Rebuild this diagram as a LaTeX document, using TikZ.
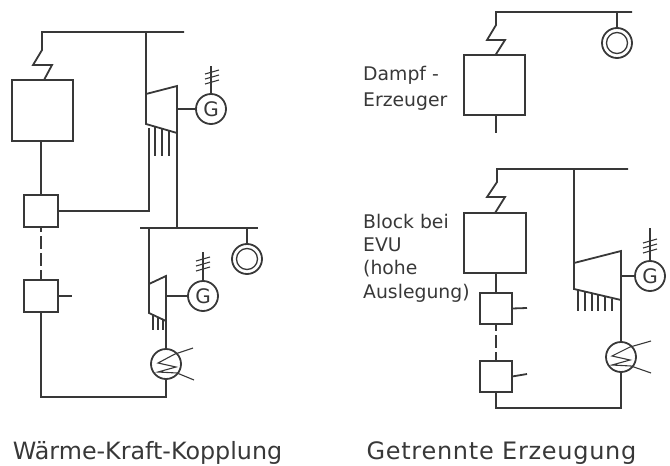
\documentclass[tikz,border=0pt]{standalone}
\usepackage{xcolor}
\usepackage{fontspec}
\setmainfont{DejaVu Sans}
\newfontfamily\capfontR[LetterSpace=3]{DejaVu Sans}
\definecolor{ink}{gray}{0.22}
\tikzset{
  line/.style={ink,line width=1.8pt},
  thin line/.style={ink,line width=1.1pt},
  box/.style={draw=ink,line width=1.8pt,rectangle,inner sep=0pt,outer sep=0pt},
  ring/.style={draw=ink,line width=1.8pt,circle,inner sep=0pt,outer sep=0pt,minimum size=30pt},
  inner ring/.style={ring,line width=1.3pt,minimum size=21pt},
  gen/.style={ring,text=ink,font=\fontsize{20}{20}\selectfont},
  label/.style={text=ink,anchor=base west,inner sep=0pt,font=\fontsize{18.8}{20}\selectfont},
  capL/.style={text=ink,anchor=base,inner sep=0pt,font=\fontsize{23.8}{24}\selectfont},
  capR/.style={text=ink,anchor=base,inner sep=0pt,font=\capfontR\fontsize{24}{24}\selectfont}
}
\begin{document}
\begin{tikzpicture}[x=1pt,y=-1pt]
    \useasboundingbox (0,0) rectangle (670,466);

    % linke Seite
    \coordinate (A) at (42,32);
    \coordinate (B) at (184,32);
    \coordinate (C) at (146,32);
    \coordinate (D) at (146,94);
    \coordinate (E) at (177,86);
    \coordinate (F) at (177,133);
    \coordinate (H) at (146,124);
    \coordinate (I) at (149,128);
    \coordinate (K) at (140,228);
    \coordinate (L) at (258,228);
    \coordinate (M) at (177,228);
    \coordinate (N) at (149,228);
    \coordinate (O) at (149,284);
    \coordinate (P) at (166,276);
    \coordinate (Q) at (166,321);
    \coordinate (R) at (149,313);
    \coordinate (S) at (41,397);
    \coordinate (T) at (166,397);
    \coordinate (U) at (72,296);
    \coordinate (V) at (211,66);
    \coordinate (W) at (203,252);
    \coordinate (X) at (193,348);
    \coordinate (Y) at (194,380);

    \node[box,minimum width=61pt,minimum height=61pt] (kessel) at (42.5,110.5) {};
    \node[box,minimum width=34pt,minimum height=32pt] (vorA) at (41,211) {};
    \node[box,minimum width=34pt,minimum height=32pt] (vorB) at (41,296) {};
    \node[gen] (genA) at (211,109) {G};
    \node[gen] (genB) at (203,296) {G};
    \node[ring] (netzA) at (247,259) {};
    \node[inner ring] (netzAi) at (247,259) {};
    \node[ring] (kond) at (166,364) {};

    \draw[line] (kessel.north) ++(1.5,0) -- (52,65) -- (33,65) -- (42,50) -- (A) -- (B);
    \draw[line] (C) -- (D) -- (E) -- (F) -- (H) -- (D);
    \draw[line] (kessel.south) ++(-1.5,0) -- (vorA.north);
    \draw[line] (vorA.east) -| (I);
    \draw[line] (F) -- (M);
    \draw[line] (K) -- (L);
    \draw[line] (247,228) -- (netzA.north);
    \draw[line] (N) -- (O) -- (P) -- (Q) -- (R) -- (O);
    \draw[line] (E |- genA) -- (genA.west);
    \draw[line] (P |- genB) -- (genB.west);
    \draw[line] (Q) -- (kond.north);
    \draw[line] (kond.south) -- (T) -- (S) -- (vorB.south);
    \draw[line] (vorB.east) -- (U);
    \draw[line,dash pattern=on 13pt off 4pt,dash phase=8pt] (vorA.south) -- (vorB.north);
    \draw[line] (genA.north) -- (V);
    \draw[line] (genB.north) -- (W);
    \draw[thin line] (205,74) -- (219,70);
    \draw[thin line] (205,79) -- (219,75);
    \draw[thin line] (205,84) -- (219,80);
    \draw[thin line] (196,261) -- (210,257);
    \draw[thin line] (196,266) -- (210,262);
    \draw[thin line] (196,271) -- (210,267);
    \draw[line] (155,127) -- (155,156);
    \draw[line] (162,129) -- (162,156);
    \draw[line] (169,131) -- (169,156);
    \draw[line] (153,315) -- (153,330);
    \draw[line] (158,317) -- (158,330);
    \draw[line] (163,319) -- (163,330);
    \draw[thin line] (X) -- (175,354) -- (158,363) -- (176,367) -- (158,372) -- (177,373) -- (Y);

    % rechte Seite oben
    \coordinate (a) at (496,12);
    \coordinate (b) at (632,12);
    \coordinate (c) at (496,133);
    \coordinate (d) at (617,12);

    \node[box,minimum width=61pt,minimum height=60pt] (dampf) at (494.5,85) {};
    \node[ring] (netzB) at (617,43) {};
    \node[inner ring] (netzBi) at (617,43) {};

    \draw[line] (dampf.north) ++(1,0) -- (505,40) -- (487,40) -- (496,25) -- (a) -- (b);
    \draw[line] (d) -- (netzB.north);
    \draw[line] (dampf.south -| c) -- (c);

    % rechte Seite unten
    \coordinate (e) at (497,169);
    \coordinate (f) at (628,169);
    \coordinate (g) at (574,169);
    \coordinate (h) at (574,263);
    \coordinate (i) at (621,251);
    \coordinate (j) at (621,300);
    \coordinate (k) at (574,289);
    \coordinate (l) at (496,408);
    \coordinate (m) at (621,408);
    \coordinate (n) at (527,308);
    \coordinate (o) at (527,374);
    \coordinate (p) at (650,228);
    \coordinate (q) at (651,341);
    \coordinate (r) at (651,373);

    \node[box,minimum width=62pt,minimum height=60pt] (block) at (495,243) {};
    \node[box,minimum width=32pt,minimum height=31pt] (vorC) at (496,308.5) {};
    \node[box,minimum width=32pt,minimum height=31pt] (vorD) at (496,376.5) {};
    \node[gen] (genC) at (650,276) {G};
    \node[ring] (kondB) at (621,357) {};

    \draw[line] (block.north) -- (505,197) -- (487,197) -- (497,182) -- (e) -- (f);
    \draw[line] (g) -- (k) -- (j) -- (i) -- (h);
    \draw[line] (block.south) ++(1,0) -- (vorC.north);
    \draw[line] (vorC.east) -- (n);
    \draw[line,dash pattern=on 13pt off 4pt,dash phase=6pt] (vorC.south) -- (vorD.north);
    \draw[line] (vorD.east) -- (o);
    \draw[line] (vorD.south) -- (l) -- (m) -- (kondB.south);
    \draw[line] (j) -- (kondB.north);
    \draw[line] (i |- genC) -- (genC.west);
    \draw[line] (genC.north) -- (p);
    \draw[thin line] (643,243) -- (657,239);
    \draw[thin line] (643,248) -- (657,244);
    \draw[thin line] (643,253) -- (657,249);
    \draw[line] (578,290) -- (578,311);
    \draw[line] (585,292) -- (585,311);
    \draw[line] (592,294) -- (592,311);
    \draw[line] (598,295) -- (598,311);
    \draw[line] (605,297) -- (605,311);
    \draw[line] (612,299) -- (612,311);
    \draw[thin line] (q) -- (630,347) -- (612,356) -- (630,360) -- (612,365) -- (631,366) -- (r);

    % Texte
    \node[label] (dampftext) at (363,80) {Dampf -};
    \node[label] (erzeuger) at (363,106) {Erzeuger};
    \node[label] (blocktext) at (363,228) {Block bei};
    \node[label] (evu) at (363,251) {EVU};
    \node[label] (hohe) at (363,274) {(hohe};
    \node[label] (ausl) at (363,298) {Auslegung)};
    \node[capL] (capWKK) at (147.5,459) {Wärme-Kraft-Kopplung};
    \node[capR] (capGE) at (501.5,459) {Getrennte Erzeugung};
\end{tikzpicture}
\end{document}
